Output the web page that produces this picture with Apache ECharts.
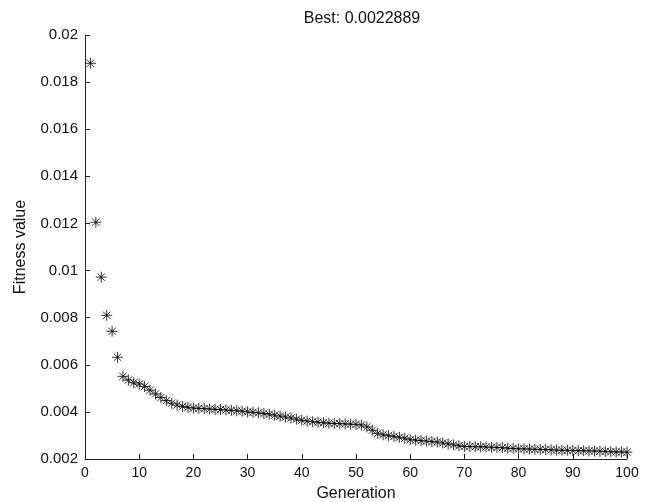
<!DOCTYPE html>
<html><head><meta charset="utf-8">
<script src="https://cdn.jsdelivr.net/npm/echarts@6/dist/echarts.min.js"></script>
<style>html,body{margin:0;padding:0;background:#fff}#c{width:656px;height:502px}</style>
</head><body><div id="c"></div>
<script>
const titleText = 'Best: 0.0022889';
const xName = 'Generation';
const yName = 'Fitness value';
const generations = Array.from({length:100},(_,i)=>i+1);
const bestFitness = [
0.0188,0.01205,0.00972,0.0081,0.00742,0.00632,0.00551,0.00535,0.00524,0.00518,
0.00508,0.00492,0.00476,0.00461,0.00448,0.00437,0.00429,0.00423,0.00419,0.00416,
0.00415,0.00414,0.00412,0.00411,0.00410,0.00408,0.00407,0.00405,0.00403,0.00400,
0.00398,0.00396,0.00393,0.00390,0.00386,0.00382,0.00378,0.00374,0.00369,0.00364,
0.00361,0.00358,0.00356,0.00354,0.00352,0.00351,0.00350,0.00349,0.00348,0.00347,
0.00344,0.00336,0.00322,0.00309,0.00303,0.00299,0.00296,0.00292,0.00288,0.00282,
0.00280,0.00278,0.00276,0.00274,0.00272,0.00268,0.00264,0.00260,0.00256,0.00253,
0.00253,0.00252,0.00252,0.00251,0.00250,0.00249,0.00248,0.00246,0.00245,0.00243,
0.00243,0.00242,0.00241,0.00241,0.00240,0.00239,0.00238,0.00237,0.00237,0.00236,
0.00235,0.00235,0.00234,0.00234,0.00233,0.00232,0.00231,0.00230,0.00230,0.00229
];
const xTicks = {min:0,max:100,interval:10};
const yTicks = {min:0.002,max:0.02,interval:0.002};

const chart = echarts.init(document.getElementById('c'));
const font = 'Liberation Sans, Arial, sans-serif';
const axisCommon = {
  axisLine:{show:true,lineStyle:{color:'#222',width:1}},
  axisTick:{show:true,inside:true,length:5,lineStyle:{color:'#222'}},
  splitLine:{show:false},
  nameTextStyle:{fontFamily:font,fontSize:16,color:'#111'}
};
chart.setOption({
  animation:false,
  backgroundColor:'#fff',
  title:{text:titleText,left:357,textAlign:'center',top:6,textStyle:{fontFamily:font,fontSize:16,fontWeight:'normal',color:'#111'}},
  grid:{left:85,right:29,top:35,bottom:43,containLabel:false,outerBoundsMode:'none'},
  xAxis:Object.assign({type:'value',min:xTicks.min,max:xTicks.max,interval:xTicks.interval,name:xName,nameLocation:'middle',nameGap:27},axisCommon,
    {axisLabel:{fontFamily:font,fontSize:14,color:'#111',margin:7}}),
  yAxis:Object.assign({type:'value',min:yTicks.min,max:yTicks.max,interval:yTicks.interval,name:yName,nameLocation:'middle',nameGap:56},axisCommon,
    {axisLabel:{fontFamily:font,fontSize:15,color:'#111',margin:7,formatter:v=>String(+v.toFixed(4))}}),
  series:[{
    type:'scatter',
    data:generations.map((g,i)=>[g,bestFitness[i]]),
    symbol:'path://M5,0L5,10M0,5L10,5M1.6,1.6L8.4,8.4M1.6,8.4L8.4,1.6',
    symbolSize:11,
    itemStyle:{color:'none',borderColor:'#000',borderWidth:1}
  }]
});
</script></body></html>
